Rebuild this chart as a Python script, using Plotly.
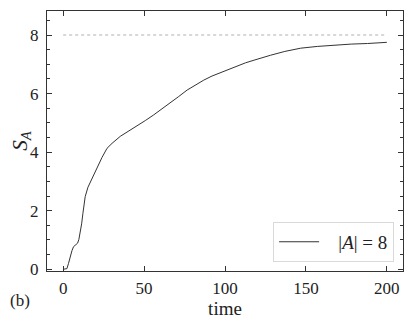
import plotly.graph_objects as go

# time series
time = [0, 1, 2.3, 3.3, 4.3, 5.4, 6.4, 7.6, 8.9, 9.7, 10.5, 11.4, 12.2, 13.6, 15.3, 17.8,
        20.9, 24, 27.1, 30.2, 35.3, 39.5, 44.6, 50.8, 55.9, 61, 66.2, 71.4, 76.6, 81.7,
        86.9, 92, 97.2, 102.4, 107.6, 112.7, 117.9, 123, 128.2, 137, 146.8, 157, 167.5,
        178, 188.1, 200]
s_a = [0, 0, 0.02, 0.2, 0.43, 0.63, 0.77, 0.84, 0.89, 1.02, 1.23, 1.55, 1.91, 2.48,
       2.80, 3.10, 3.45, 3.82, 4.13, 4.30, 4.54, 4.68, 4.85, 5.08, 5.27, 5.47, 5.67,
       5.90, 6.12, 6.30, 6.46, 6.60, 6.72, 6.84, 6.94, 7.05, 7.14, 7.23, 7.31, 7.44,
       7.55, 7.61, 7.66, 7.69, 7.71, 7.75]
limit_t = [0, 200]
limit_s = [8, 8]

FONT = "Liberation Serif"

fig = go.Figure()
fig.add_trace(go.Scatter(x=limit_t, y=limit_s, mode="lines", showlegend=False,
                         line=dict(color="#b0b0b0", width=1, dash="dot")))
fig.add_trace(go.Scatter(x=time, y=s_a, mode="lines", name="   |<i>A</i>| = 8",
                         line=dict(color="#333333", width=1)))

axis_common = dict(showline=True, linecolor="#333333", linewidth=1, mirror="allticks",
                   ticks="inside", tickcolor="#333333", ticklen=5, tickwidth=1,
                   showgrid=False, zeroline=False, automargin=False,
                   tickfont=dict(family=FONT, size=17, color="#222222"))

fig.update_xaxes(range=[-10, 210], tickvals=[0, 50, 100, 150, 200], ticklabelstandoff=2,
                 title=dict(text="time", font=dict(family=FONT, size=19, color="#222222"), standoff=4),
                 **axis_common)
fig.update_yaxes(range=[-0.06, 8.82], tickvals=[0, 2, 4, 6, 8], ticklabelstandoff=4,
                 minor=dict(dtick=0.5, tick0=0, ticks="inside", ticklen=3, tickcolor="#333333"),
                 title=dict(text="<i>S</i><sub><i>A</i></sub>", font=dict(family=FONT, size=21, color="#222222"),
                            standoff=6),
                 **axis_common)

fig.add_annotation(text="(b)", x=-0.076, y=-0.115, xref="paper", yref="paper",
                   xanchor="center", yanchor="middle", showarrow=False,
                   font=dict(family=FONT, size=17, color="#222222"))

# page body has an 8px margin, so the figure is sized to sit in the 415x327 window
fig.update_layout(
    width=407, height=319,
    margin=dict(l=39, r=12, t=3, b=56),
    font=dict(family=FONT, color="#222222"),
    paper_bgcolor="white", plot_bgcolor="white",
    legend=dict(x=0.975, y=0.035, xanchor="right", yanchor="bottom",
                bordercolor="#d9d9d9", borderwidth=1, bgcolor="rgba(255,255,255,0.8)",
                itemwidth=40, tracegroupgap=0,
                font=dict(family=FONT, size=19, color="#222222")),
)

fig.write_html("out.html")
